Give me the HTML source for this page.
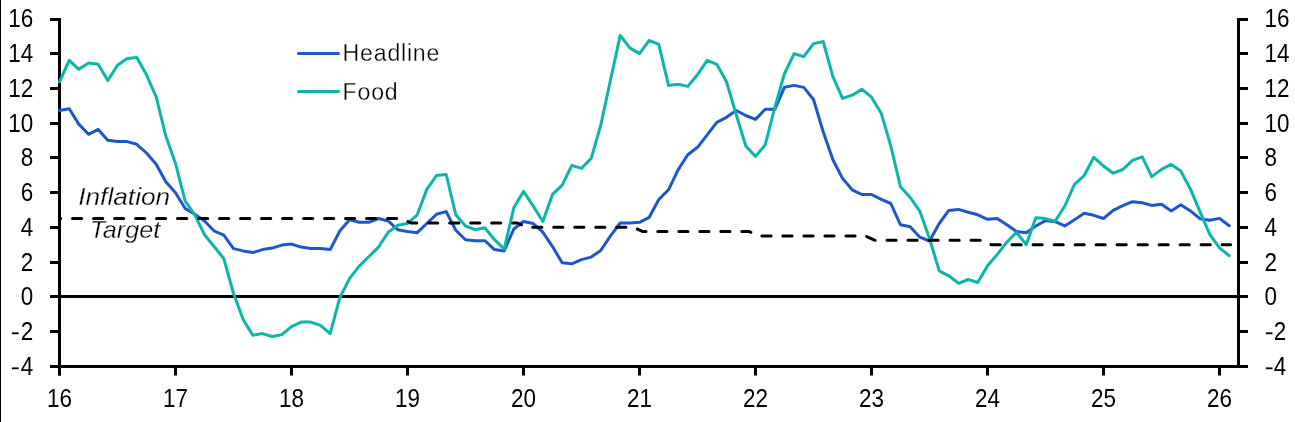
<!DOCTYPE html>
<html><head><meta charset="utf-8"><title>Chart</title>
<style>
html,body{margin:0;padding:0;background:#fff;}
svg{display:block;will-change:transform;}
text{font-family:"Liberation Sans",sans-serif;font-size:25.5px;fill:#000;}
</style></head><body>
<svg width="1295" height="422" viewBox="0 0 1295 422">
<rect x="0" y="0" width="1295" height="422" fill="#fff"/>
<rect x="0" y="0" width="1" height="422" fill="#000"/>
<rect x="58" y="18" width="3" height="357.5" fill="#000"/>
<rect x="1237" y="18" width="3" height="350" fill="#000"/>
<rect x="58" y="365" width="1182" height="3" fill="#000"/>
<rect x="58" y="295" width="1182" height="3" fill="#000"/>
<rect x="50" y="18.0" width="9" height="3" fill="#000"/>
<rect x="1239" y="18.0" width="9" height="3" fill="#000"/>
<text transform="translate(33.3,26.8) scale(0.88,1)" text-anchor="end">16</text>
<text transform="translate(1264.5,26.8) scale(0.88,1)" text-anchor="start">16</text>
<rect x="50" y="52.0" width="9" height="3" fill="#000"/>
<rect x="1239" y="52.0" width="9" height="3" fill="#000"/>
<text transform="translate(33.3,61.8) scale(0.88,1)" text-anchor="end">14</text>
<text transform="translate(1264.5,61.8) scale(0.88,1)" text-anchor="start">14</text>
<rect x="50" y="87.0" width="9" height="3" fill="#000"/>
<rect x="1239" y="87.0" width="9" height="3" fill="#000"/>
<text transform="translate(33.3,96.8) scale(0.88,1)" text-anchor="end">12</text>
<text transform="translate(1264.5,96.8) scale(0.88,1)" text-anchor="start">12</text>
<rect x="50" y="122.0" width="9" height="3" fill="#000"/>
<rect x="1239" y="122.0" width="9" height="3" fill="#000"/>
<text transform="translate(33.3,131.8) scale(0.88,1)" text-anchor="end">10</text>
<text transform="translate(1264.5,131.8) scale(0.88,1)" text-anchor="start">10</text>
<rect x="50" y="156.0" width="9" height="3" fill="#000"/>
<rect x="1239" y="156.0" width="9" height="3" fill="#000"/>
<text transform="translate(33.3,165.8) scale(0.88,1)" text-anchor="end">8</text>
<text transform="translate(1264.5,165.8) scale(0.88,1)" text-anchor="start">8</text>
<rect x="50" y="191.0" width="9" height="3" fill="#000"/>
<rect x="1239" y="191.0" width="9" height="3" fill="#000"/>
<text transform="translate(33.3,200.8) scale(0.88,1)" text-anchor="end">6</text>
<text transform="translate(1264.5,200.8) scale(0.88,1)" text-anchor="start">6</text>
<rect x="50" y="226.0" width="9" height="3" fill="#000"/>
<rect x="1239" y="226.0" width="9" height="3" fill="#000"/>
<text transform="translate(33.3,235.8) scale(0.88,1)" text-anchor="end">4</text>
<text transform="translate(1264.5,235.8) scale(0.88,1)" text-anchor="start">4</text>
<rect x="50" y="261.0" width="9" height="3" fill="#000"/>
<rect x="1239" y="261.0" width="9" height="3" fill="#000"/>
<text transform="translate(33.3,270.8) scale(0.88,1)" text-anchor="end">2</text>
<text transform="translate(1264.5,270.8) scale(0.88,1)" text-anchor="start">2</text>
<rect x="50" y="295.0" width="9" height="3" fill="#000"/>
<rect x="1239" y="295.0" width="9" height="3" fill="#000"/>
<text transform="translate(33.3,304.8) scale(0.88,1)" text-anchor="end">0</text>
<text transform="translate(1264.5,304.8) scale(0.88,1)" text-anchor="start">0</text>
<rect x="50" y="330.0" width="9" height="3" fill="#000"/>
<rect x="1239" y="330.0" width="9" height="3" fill="#000"/>
<text transform="translate(33.3,339.8) scale(0.88,1)" text-anchor="end">2</text>
<rect x="11.9" y="332.4" width="6.8" height="1.8" fill="#000"/>
<text transform="translate(1273.7,339.8) scale(0.88,1)" text-anchor="start">2</text>
<rect x="1265.8" y="332.4" width="6.7" height="1.8" fill="#000"/>
<rect x="50" y="365.0" width="9" height="3" fill="#000"/>
<rect x="1239" y="365.0" width="9" height="3" fill="#000"/>
<text transform="translate(33.3,374.8) scale(0.88,1)" text-anchor="end">4</text>
<rect x="11.9" y="367.4" width="6.8" height="1.8" fill="#000"/>
<text transform="translate(1273.7,374.8) scale(0.88,1)" text-anchor="start">4</text>
<rect x="1265.8" y="367.4" width="6.7" height="1.8" fill="#000"/>
<rect x="58" y="367" width="3" height="8.5" fill="#000"/>
<text transform="translate(59.5,406.7) scale(0.88,1)" text-anchor="middle">16</text>
<rect x="174" y="367" width="3" height="8.5" fill="#000"/>
<text transform="translate(175.5,406.7) scale(0.88,1)" text-anchor="middle">17</text>
<rect x="290" y="367" width="3" height="8.5" fill="#000"/>
<text transform="translate(291.5,406.7) scale(0.88,1)" text-anchor="middle">18</text>
<rect x="406" y="367" width="3" height="8.5" fill="#000"/>
<text transform="translate(407.5,406.7) scale(0.88,1)" text-anchor="middle">19</text>
<rect x="522" y="367" width="3" height="8.5" fill="#000"/>
<text transform="translate(523.5,406.7) scale(0.88,1)" text-anchor="middle">20</text>
<rect x="638" y="367" width="3" height="8.5" fill="#000"/>
<text transform="translate(639.5,406.7) scale(0.88,1)" text-anchor="middle">21</text>
<rect x="754" y="367" width="3" height="8.5" fill="#000"/>
<text transform="translate(755.5,406.7) scale(0.88,1)" text-anchor="middle">22</text>
<rect x="870" y="367" width="3" height="8.5" fill="#000"/>
<text transform="translate(871.5,406.7) scale(0.88,1)" text-anchor="middle">23</text>
<rect x="986" y="367" width="3" height="8.5" fill="#000"/>
<text transform="translate(987.5,406.7) scale(0.88,1)" text-anchor="middle">24</text>
<rect x="1102" y="367" width="3" height="8.5" fill="#000"/>
<text transform="translate(1103.5,406.7) scale(0.88,1)" text-anchor="middle">25</text>
<rect x="1218" y="367" width="3" height="8.5" fill="#000"/>
<text transform="translate(1219.5,406.7) scale(0.88,1)" text-anchor="middle">26</text>
<text transform="translate(124.2,205.1) scale(1.069,1)" text-anchor="middle" style="stroke:#fff;stroke-width:0.3px;font-size:24.6px;font-style:italic;">Inflation</text>
<text transform="translate(124.9,237.6) scale(1.024,1)" text-anchor="middle" style="stroke:#fff;stroke-width:0.3px;font-size:24.6px;font-style:italic;">Target</text>
<path d="M59.5,110.5 L69.2,108.7 L78.8,124.1 L88.5,134.3 L98.2,129.4 L107.8,140.3 L117.5,141.6 L127.2,141.6 L136.8,144.3 L146.5,153.0 L156.2,164.2 L165.8,181.8 L175.5,192.8 L185.2,208.5 L194.8,214.3 L204.5,221.0 L214.2,231.0 L223.8,235.2 L233.5,248.6 L243.2,250.9 L252.8,252.6 L262.5,249.6 L272.2,248.1 L281.8,245.1 L291.5,244.1 L301.2,247.1 L310.8,248.4 L320.5,248.4 L330.2,249.6 L339.8,231.0 L349.5,219.8 L359.2,222.3 L368.8,222.3 L378.5,218.5 L388.2,221.0 L397.8,229.7 L407.5,231.5 L417.2,232.7 L426.8,223.5 L436.5,214.3 L446.2,211.6 L455.8,230.2 L465.5,239.7 L475.2,240.7 L484.8,240.7 L494.5,249.6 L504.2,250.9 L513.8,229.0 L523.5,221.5 L533.2,223.5 L542.8,232.2 L552.5,246.6 L562.2,262.8 L571.8,263.8 L581.5,259.6 L591.2,257.1 L600.8,250.4 L610.5,235.9 L620.2,223.0 L629.8,223.0 L639.5,222.3 L649.2,217.3 L658.8,199.5 L668.5,189.8 L678.2,169.6 L687.8,154.7 L697.5,147.3 L707.2,134.8 L716.8,122.3 L726.5,117.3 L736.2,110.5 L745.8,115.5 L755.5,119.4 L765.2,109.3 L774.8,109.3 L784.5,87.2 L794.2,85.4 L803.8,87.4 L813.5,99.5 L823.2,131.8 L832.8,159.5 L842.5,178.4 L852.2,189.8 L861.8,194.5 L871.5,194.5 L881.2,199.4 L890.8,203.5 L900.5,224.8 L910.2,226.8 L919.8,237.2 L929.5,241.0 L939.2,223.5 L948.8,210.4 L958.5,209.4 L968.2,212.3 L977.8,214.8 L987.5,219.3 L997.2,218.6 L1006.8,224.8 L1016.5,231.5 L1026.2,232.7 L1035.8,226.0 L1045.5,220.6 L1055.2,221.7 L1064.8,225.9 L1074.5,219.7 L1084.2,213.2 L1093.8,215.3 L1103.5,218.5 L1113.2,210.3 L1122.8,205.7 L1132.5,201.7 L1142.2,202.7 L1151.8,205.4 L1161.5,204.2 L1171.2,210.9 L1180.8,204.7 L1190.5,210.9 L1200.2,218.8 L1209.8,220.3 L1219.5,218.4 L1229.2,225.7" fill="none" stroke="#1e56cc" stroke-width="3" stroke-linejoin="round" stroke-linecap="round"/>
<path d="M59.5,81.8 L69.2,60.4 L78.8,69.3 L88.5,63.1 L98.2,64.3 L107.8,80.5 L117.5,65.3 L127.2,58.6 L136.8,57.4 L146.5,74.8 L156.2,97.0 L165.8,136.0 L175.5,163.5 L185.2,201.1 L194.8,214.8 L204.5,234.7 L214.2,246.8 L223.8,258.5 L233.5,293.5 L243.2,319.6 L252.8,335.3 L262.5,333.6 L272.2,336.5 L281.8,334.6 L291.5,326.6 L301.2,322.1 L310.8,322.1 L320.5,325.3 L330.2,333.6 L339.8,297.7 L349.5,278.6 L359.2,266.1 L368.8,256.7 L378.5,247.1 L388.2,232.2 L397.8,225.2 L407.5,223.5 L417.2,214.8 L426.8,189.4 L436.5,175.5 L446.2,174.5 L455.8,214.8 L465.5,226.0 L475.2,229.7 L484.8,227.7 L494.5,239.7 L504.2,249.1 L513.8,207.8 L523.5,191.4 L533.2,206.0 L542.8,221.5 L552.5,194.4 L562.2,185.2 L571.8,165.4 L581.5,168.4 L591.2,158.4 L600.8,125.0 L610.5,80.0 L620.2,35.4 L629.8,47.9 L639.5,53.6 L649.2,40.4 L658.8,44.4 L668.5,85.4 L678.2,84.2 L687.8,86.4 L697.5,74.7 L707.2,60.3 L716.8,64.3 L726.5,81.7 L736.2,114.5 L745.8,146.0 L755.5,156.5 L765.2,144.8 L774.8,107.5 L784.5,73.5 L794.2,53.6 L803.8,56.7 L813.5,43.6 L823.2,41.5 L832.8,76.3 L842.5,98.4 L852.2,95.2 L861.8,89.2 L871.5,97.2 L881.2,113.2 L890.8,146.0 L900.5,186.8 L910.2,197.5 L919.8,211.1 L929.5,238.5 L939.2,270.8 L948.8,275.8 L958.5,283.3 L968.2,279.5 L977.8,282.5 L987.5,265.8 L997.2,254.6 L1006.8,242.2 L1016.5,232.3 L1026.2,244.7 L1035.8,217.8 L1045.5,218.6 L1055.2,221.2 L1064.8,206.0 L1074.5,184.3 L1084.2,175.5 L1093.8,157.3 L1103.5,166.0 L1113.2,173.2 L1122.8,169.5 L1132.5,160.4 L1142.2,156.9 L1151.8,176.6 L1161.5,169.4 L1171.2,164.4 L1180.8,171.1 L1190.5,189.3 L1200.2,212.2 L1209.8,234.4 L1219.5,247.9 L1229.2,255.7" fill="none" stroke="#0bb6a8" stroke-width="3" stroke-linejoin="round" stroke-linecap="round"/>
<path d="M59.5,218.6 L63.1,218.6 L72.8,218.6 L82.4,218.6 L92.1,218.6 L101.8,218.6 L111.4,218.6 L121.1,218.6 L130.8,218.6 L140.4,218.6 L150.1,218.6 L159.8,218.6 L169.4,218.6 L179.1,218.6 L188.8,218.6 L198.4,218.6 L208.1,218.6 L217.8,218.6 L227.4,218.6 L237.1,218.6 L246.8,218.6 L256.4,218.6 L266.1,218.6 L275.8,218.6 L285.4,218.6 L295.1,218.6 L304.8,218.6 L314.4,218.6 L324.1,218.6 L333.8,218.6 L343.4,218.6 L353.1,218.6 L362.8,218.6 L372.4,218.6 L382.1,218.6 L391.8,218.6 L401.4,218.6 L411.1,223.0 L420.8,223.0 L430.4,223.0 L440.1,223.0 L449.8,223.0 L459.4,223.0 L469.1,223.0 L478.8,223.0 L488.4,223.0 L498.1,223.0 L507.8,223.0 L517.4,223.0 L527.1,227.3 L536.8,227.3 L546.4,227.3 L556.1,227.3 L565.8,227.3 L575.4,227.3 L585.1,227.3 L594.8,227.3 L604.4,227.3 L614.1,227.3 L623.8,227.3 L633.4,227.3 L643.1,231.6 L652.8,231.6 L662.4,231.6 L672.1,231.6 L681.8,231.6 L691.4,231.6 L701.1,231.6 L710.8,231.6 L720.4,231.6 L730.1,231.6 L739.8,231.6 L749.4,231.6 L759.1,236.0 L768.8,236.0 L778.4,236.0 L788.1,236.0 L797.8,236.0 L807.4,236.0 L817.1,236.0 L826.8,236.0 L836.4,236.0 L846.1,236.0 L855.8,236.0 L865.4,236.0 L875.1,240.3 L884.8,240.3 L894.4,240.3 L904.1,240.3 L913.8,240.3 L923.4,240.3 L933.1,240.3 L942.8,240.3 L952.4,240.3 L962.1,240.3 L971.8,240.3 L981.4,240.3 L991.1,244.7 L1000.8,244.7 L1010.4,244.7 L1020.1,244.7 L1029.8,244.7 L1039.4,244.7 L1049.1,244.7 L1058.8,244.7 L1068.4,244.7 L1078.1,244.7 L1087.8,244.7 L1097.4,244.7 L1107.1,244.7 L1116.8,244.7 L1126.4,244.7 L1136.1,244.7 L1145.8,244.7 L1155.4,244.7 L1165.1,244.7 L1174.8,244.7 L1184.4,244.7 L1194.1,244.7 L1203.8,244.7 L1213.4,244.7 L1223.1,244.7 L1230.6,244.7" fill="none" stroke="#000" stroke-width="3" stroke-linecap="round" stroke-linejoin="round" stroke-dasharray="9.2 11.803" stroke-dashoffset="8.0"/>
<line x1="298.5" y1="53.5" x2="338.5" y2="53.5" stroke="#1e56cc" stroke-width="3" stroke-linecap="round"/>
<line x1="298.5" y1="91.5" x2="338.5" y2="91.5" stroke="#0bb6a8" stroke-width="3" stroke-linecap="round"/>
<text transform="translate(342.6,60.8) scale(0.965,1)" text-anchor="start" style="letter-spacing:0.8px;stroke:#fff;stroke-width:0.3px;font-size:24px;">Headline</text>
<text transform="translate(342.6,99.5) scale(0.965,1)" text-anchor="start" style="letter-spacing:0.8px;stroke:#fff;stroke-width:0.3px;font-size:24px;">Food</text>
</svg>
</body></html>
